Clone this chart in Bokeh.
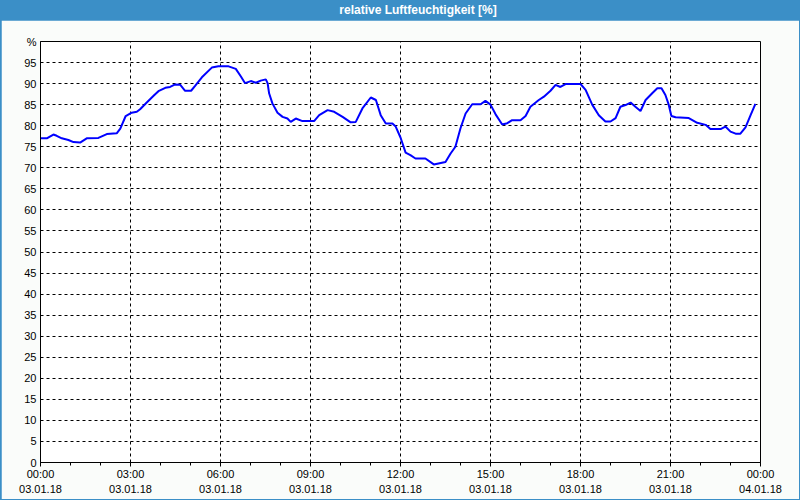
from bokeh.plotting import figure
from bokeh.models import Range1d, FixedTicker, LinearAxis, Div
from bokeh.layouts import column
from bokeh.embed import file_html
from bokeh.resources import INLINE

title_text = "relative Luftfeuchtigkeit [%]"

hours = [0, 0.21, 0.43, 0.54, 0.71, 0.93, 1.1, 1.32, 1.54, 1.93,
         2.21, 2.54, 2.66, 2.84, 3.04, 3.21, 3.32, 3.5, 3.77, 3.93,
         4.16, 4.32, 4.49, 4.66, 4.82, 5.02, 5.16, 5.38, 5.71, 5.93,
         6.27, 6.51, 6.68, 6.82, 7.01, 7.18, 7.34, 7.51, 7.57, 7.62,
         7.73, 7.9, 8.07, 8.23, 8.34, 8.51, 8.73, 9.12, 9.29, 9.57,
         9.79, 10.07, 10.34, 10.51, 10.73, 11.01, 11.18, 11.34, 11.51, 11.73,
         11.84, 12.0, 12.17, 12.33, 12.5, 12.83, 13.11, 13.5, 13.67, 13.83,
         14.0, 14.17, 14.39, 14.67, 14.83, 15.0, 15.17, 15.39, 15.56, 15.72,
         16.0, 16.17, 16.33, 16.61, 16.78, 17.0, 17.17, 17.33, 17.5, 18.0,
         18.17, 18.39, 18.61, 18.83, 19.0, 19.17, 19.33, 19.5, 19.67, 19.83,
         20.0, 20.17, 20.39, 20.56, 20.7, 20.83, 20.94, 21.03, 21.17, 21.61,
         21.89, 22.17, 22.33, 22.67, 22.83, 23.0, 23.17, 23.33, 23.5, 23.67,
         23.83]

humidity = [77.0, 77.0, 77.9, 77.6, 77.0, 76.6, 76.1, 76.0, 77.0, 77.1,
            78.0, 78.2, 79.3, 82.3, 83.1, 83.3, 83.9, 85.2, 87.1, 88.2,
            89.0, 89.2, 89.8, 89.7, 88.3, 88.3, 89.5, 91.5, 93.8, 94.1,
            94.1, 93.5, 91.7, 90.1, 90.6, 90.2, 90.7, 91.0, 90.1, 87.7,
            85.3, 83.1, 82.1, 81.7, 80.9, 81.7, 81.1, 81.1, 82.5, 83.7,
            83.3, 82.1, 80.8, 80.9, 84.1, 86.7, 86.1, 82.5, 80.5, 80.5,
            79.8, 77.2, 73.6, 73.0, 72.2, 72.2, 70.8, 71.4, 73.4, 75.0,
            79.4, 82.9, 85.1, 85.1, 85.9, 85.0, 82.7, 80.3, 80.6, 81.3,
            81.3, 82.3, 84.5, 86.1, 86.9, 88.3, 89.7, 89.2, 89.9, 89.9,
            88.5, 85.0, 82.5, 81.0, 81.0, 81.8, 84.5, 84.9, 85.5, 84.5,
            83.5, 86.1, 87.7, 88.9, 88.9, 87.3, 85.0, 82.3, 82.0, 81.8,
            80.7, 80.2, 79.2, 79.2, 79.8, 78.6, 78.1, 78.1, 79.6, 82.5,
            85.2]

x_ticks = [0, 3, 6, 9, 12, 15, 18, 21, 24]
time_labels = ["00:00", "03:00", "06:00", "09:00", "12:00", "15:00", "18:00", "21:00", "00:00"]
date_labels = ["03.01.18", "03.01.18", "03.01.18", "03.01.18", "03.01.18",
               "03.01.18", "03.01.18", "03.01.18", "04.01.18"]
y_ticks = [0, 5, 10, 15, 20, 25, 30, 35, 40, 45, 50, 55, 60, 65, 70, 75, 80, 85, 90, 95, 100]
y_labels = ["0", "5", "10", "15", "20", "25", "30", "35", "40", "45", "50",
            "55", "60", "65", "70", "75", "80", "85", "90", "95", "%"]

BLUE = "#3B8FC7"
FONT = "Liberation Sans"

p = figure(width=798, height=479, output_backend="svg", toolbar_location=None,
           x_range=Range1d(0, 24), y_range=Range1d(0, 100),
           min_border_left=39, min_border_right=39, min_border_top=21, min_border_bottom=37)
p.margin = (0, 1, 1, 1)
p.background_fill_color = "white"
p.border_fill_color = "#FAFCFA"
p.outline_line_color = "black"
p.outline_line_width = 1

xa = p.xaxis[0]
xa.ticker = FixedTicker(ticks=x_ticks, minor_ticks=list(range(25)))
xa.major_label_overrides = {t: l for t, l in zip(x_ticks, time_labels)}
xa.axis_line_color = "black"
xa.major_tick_line_color = "black"
xa.minor_tick_line_color = "black"
xa.major_tick_in = 0
xa.major_tick_out = 4
xa.minor_tick_in = 0
xa.minor_tick_out = 3
xa.major_label_standoff = 1
xa.major_label_text_font = FONT
xa.major_label_text_font_size = "11px"
xa.major_label_text_color = "black"

xa2 = LinearAxis(ticker=FixedTicker(ticks=x_ticks, minor_ticks=[]),
                 major_label_overrides={t: l for t, l in zip(x_ticks, date_labels)},
                 axis_line_color=None, major_tick_line_color=None, minor_tick_line_color=None,
                 major_tick_in=0, major_tick_out=0, minor_tick_in=0, minor_tick_out=0,
                 major_label_standoff=2,
                 major_label_text_font=FONT, major_label_text_font_size="11px",
                 major_label_text_color="black")
p.add_layout(xa2, "below")

ya = p.yaxis[0]
ya.ticker = FixedTicker(ticks=y_ticks, minor_ticks=[])
ya.major_label_overrides = {t: l for t, l in zip(y_ticks, y_labels)}
ya.axis_line_color = "black"
ya.major_tick_line_color = None
ya.major_tick_in = 0
ya.major_tick_out = 0
ya.minor_tick_line_color = None
ya.major_label_standoff = 4
ya.major_label_text_font = FONT
ya.major_label_text_font_size = "11px"
ya.major_label_text_color = "black"

for g in (p.xgrid[0], p.ygrid[0]):
    g.grid_line_color = "black"
    g.grid_line_dash = "3 3"
    g.grid_line_width = 1

p.line(hours, humidity, line_color="#0000FF", line_width=2)

title = Div(text=title_text, width=800, height=20, margin=0,
            styles={"background-color": BLUE, "color": "white", "font-weight": "bold",
                    "font-family": FONT, "font-size": "12px", "text-align": "center",
                    "line-height": "20px", "padding-left": "36px", "box-sizing": "border-box"})

layout = column(title, p, width=800, height=500, spacing=0,
                styles={"background-color": BLUE})

open("out.html", "w").write(file_html(layout, INLINE))
